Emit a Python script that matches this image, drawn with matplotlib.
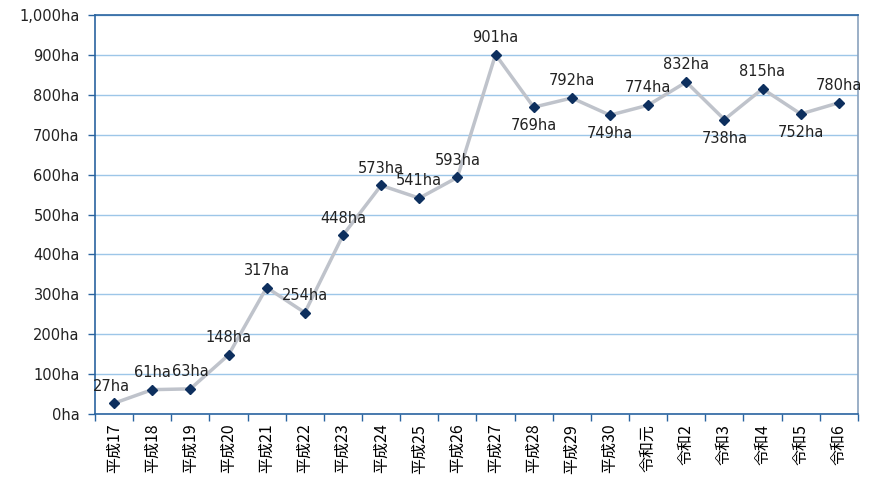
import numpy as np
import matplotlib
matplotlib.use("Agg")
import matplotlib.pyplot as plt
from matplotlib.ticker import FuncFormatter, FixedLocator

plt.rcParams['font.family'] = ['DejaVu Sans', 'Noto Sans CJK JP']

# data
years = ["平成17", "平成18", "平成19", "平成20", "平成21", "平成22", "平成23",
         "平成24", "平成25", "平成26", "平成27", "平成28", "平成29", "平成30",
         "令和元", "令和2", "令和3", "令和4", "令和5", "令和6"]
area = [27, 61, 63, 148, 317, 254, 448, 573, 541, 593, 901, 769, 792, 749,
        774, 832, 738, 815, 752, 780]
below = ["平成28", "平成30", "令和3", "令和5"]

AXIS_BLUE = "#2A64A0"
GRID_BLUE = "#9DC6E8"

fig = plt.figure(figsize=(8.83, 4.78), dpi=100)
ax = fig.add_axes([0.1076, 0.1339, 0.864, 0.8347])

x = np.arange(len(years))
ax.plot(x, area, color="#BFC3CB", linewidth=2.5, zorder=2)
ax.plot(x, area, linestyle="none", marker="D", markersize=5.5,
        color="#0D2F5E", zorder=3)

for xi, name, v in zip(x, years, area):
    lbl = f"{v}ha"
    if name in below:
        ax.annotate(lbl, (xi, v), xytext=(0, -8), textcoords="offset points",
                    ha="center", va="top", fontsize=10.5, color="#222222")
    elif name == "平成17":
        ax.annotate(lbl, (xi, v), xytext=(-2, 7), textcoords="offset points",
                    ha="center", va="bottom", fontsize=10.5, color="#222222")
    else:
        ax.annotate(lbl, (xi, v), xytext=(0, 7), textcoords="offset points",
                    ha="center", va="bottom", fontsize=10.5, color="#222222")

ax.set_xlim(-0.5, len(years) - 0.5)
ax.set_ylim(0, 1000)
ax.set_yticks(np.arange(0, 1001, 100))
ax.yaxis.set_major_formatter(FuncFormatter(lambda v, p: f"{int(v):,}ha"))
ax.yaxis.grid(True, color=GRID_BLUE, linewidth=1)
ax.set_axisbelow(True)

ax.set_xticks(x)
ax.set_xticklabels(years, rotation=90, fontsize=11.5,
                   family=['Noto Sans CJK JP', 'DejaVu Sans'])
ax.xaxis.set_minor_locator(FixedLocator(np.arange(-0.5, len(years), 1)))
ax.tick_params(axis="x", which="major", length=0, pad=7)
ax.tick_params(axis="x", which="minor", length=5, color=AXIS_BLUE, width=1)
ax.tick_params(axis="y", length=5, color=AXIS_BLUE, width=1, labelsize=10.5,
               labelcolor="#222222", pad=6)

ax.spines["left"].set_color(AXIS_BLUE)
ax.spines["bottom"].set_color(AXIS_BLUE)
ax.spines["top"].set_color(AXIS_BLUE)
ax.spines["right"].set_color("#8AA2BE")
for s in ax.spines.values():
    s.set_linewidth(1.2)

fig.savefig("out.png", dpi=100)
